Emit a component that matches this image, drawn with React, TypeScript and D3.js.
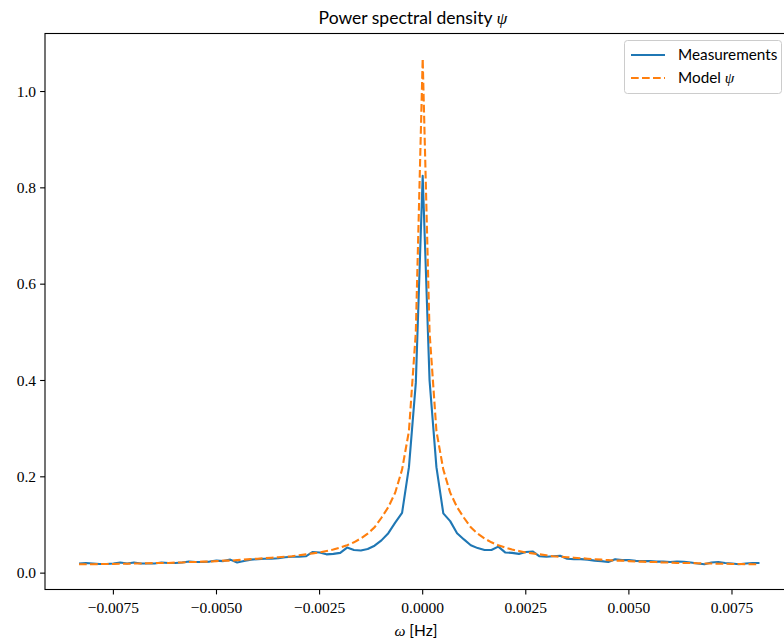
import React from "react";
import * as d3 from "d3";

// Frequency bins (fftshifted): k = -50 .. 49, spacing 1/6000 Hz
const binIndex: number[] = d3.range(-50, 50);
const binSpacingHz = 1 / 6000;

const measurements: number[] = [
  0.020, 0.021, 0.020, 0.019, 0.019, 0.020, 0.022, 0.020, 0.022, 0.020,
  0.020, 0.020, 0.022, 0.021, 0.021, 0.022, 0.024, 0.023, 0.023, 0.024,
  0.026, 0.025, 0.028, 0.022, 0.025, 0.028, 0.029, 0.030, 0.030, 0.031,
  0.033, 0.034, 0.034, 0.035, 0.044, 0.043, 0.039, 0.040, 0.042, 0.053,
  0.048, 0.047, 0.050, 0.057, 0.068, 0.083, 0.105, 0.125, 0.220, 0.395,
  0.825,
  0.400, 0.220, 0.124, 0.108, 0.083, 0.070, 0.058, 0.052, 0.048, 0.048,
  0.055, 0.043, 0.042, 0.040, 0.044, 0.045, 0.035, 0.034, 0.035, 0.036,
  0.030, 0.029, 0.029, 0.028, 0.026, 0.025, 0.023, 0.029, 0.027, 0.027,
  0.0255, 0.025, 0.025, 0.024, 0.024, 0.023, 0.024, 0.0235, 0.022, 0.020,
  0.0185, 0.022, 0.023, 0.021, 0.020, 0.0186, 0.020, 0.021, 0.021,
];

const model: number[] = [
  0.0185, 0.0185, 0.0186, 0.0188, 0.019, 0.019, 0.0195, 0.0195, 0.020, 0.020,
  0.0205, 0.021, 0.021, 0.021, 0.022, 0.022, 0.023, 0.023, 0.024, 0.024,
  0.025, 0.026, 0.026, 0.027, 0.028, 0.029, 0.030, 0.031, 0.032, 0.033,
  0.034, 0.035, 0.037, 0.039, 0.041, 0.043, 0.046, 0.049, 0.053, 0.058,
  0.064, 0.072, 0.082, 0.095, 0.115, 0.137, 0.167, 0.215, 0.295, 0.500,
  1.068,
  0.500, 0.295, 0.215, 0.167, 0.137, 0.115, 0.095, 0.082, 0.072, 0.064,
  0.058, 0.053, 0.049, 0.046, 0.043, 0.041, 0.039, 0.037, 0.035, 0.034,
  0.033, 0.032, 0.031, 0.030, 0.029, 0.028, 0.027, 0.026, 0.026, 0.025,
  0.024, 0.024, 0.023, 0.023, 0.022, 0.022, 0.021, 0.021, 0.021, 0.0205,
  0.020, 0.020, 0.0195, 0.0195, 0.019, 0.019, 0.0188, 0.0186, 0.0185,
];

const xTicks: number[] = [-0.0075, -0.005, -0.0025, 0, 0.0025, 0.005, 0.0075];
const xTickLabels: string[] = ["\u22120.0075", "\u22120.0050", "\u22120.0025", "0.0000", "0.0025", "0.0050", "0.0075"];
const yTicks: number[] = [0, 0.2, 0.4, 0.6, 0.8, 1.0];
const yTickLabels: string[] = ["0.0", "0.2", "0.4", "0.6", "0.8", "1.0"];
const seriesNames: string[] = ["Measurements", "Model"];

const W = 784;
const H = 642;
const left = 45;
const right = 793.5;
const top = 33.5;
const bottom = 589.5;

const serif = "Liberation Serif, DejaVu Serif, serif";
const sans = "Lato, Open Sans, DejaVu Sans, sans-serif";

export default function App() {
  const freqs = binIndex.map((k) => k * binSpacingHz);
  const xMin = d3.min(freqs)!;
  const xMax = d3.max(freqs)!;
  const xPad = (xMax - xMin) * 0.05;
  const allY = measurements.concat(model);
  const yMin = d3.min(allY)!;
  const yMax = d3.max(allY)!;
  const yPad = (yMax - yMin) * 0.05;

  const x = d3.scaleLinear().domain([xMin - xPad, xMax + xPad]).range([left, right]);
  const y = d3.scaleLinear().domain([yMin - yPad, yMax + yPad]).range([bottom, top]);

  const line = d3
    .line<number>()
    .x((_, i) => x(freqs[i]))
    .y((d) => y(d));

  const blue = "#1f77b4";
  const orange = "#ff7f0e";

  return (
    <svg
      width={W}
      height={H}
      style={{ position: "absolute", left: 0, top: 0, background: "#fff" }}
    >
      <defs>
        <clipPath id="plotclip">
          <rect x={left} y={top} width={right - left} height={bottom - top} />
        </clipPath>
      </defs>
      <rect x={0} y={0} width={W} height={H} fill="#fff" />
      <g clipPath="url(#plotclip)">
        <path d={line(measurements) || ""} fill="none" stroke={blue} strokeWidth={2.1} strokeLinejoin="round" />
        <path d={line(model) || ""} fill="none" stroke={orange} strokeWidth={2.1} strokeDasharray="7.7 3.3" />
      </g>
      {/* spines */}
      <rect x={left} y={top} width={right - left} height={bottom - top} fill="none" stroke="#000" strokeWidth={1.1} />
      {/* x ticks */}
      {xTicks.map((t, i) => (
        <g key={"xt" + i} transform={`translate(${x(t)},${bottom})`}>
          <line y1={0} y2={4.9} stroke="#000" strokeWidth={1.1} />
          <text y={23} textAnchor="middle" fontFamily={serif} fontSize={15.5} fill="#000">
            {xTickLabels[i]}
          </text>
        </g>
      ))}
      {/* y ticks */}
      {yTicks.map((t, i) => (
        <g key={"yt" + i} transform={`translate(${left},${y(t)})`}>
          <line x1={0} x2={-4.9} stroke="#000" strokeWidth={1.1} />
          <text x={-9} dy="0.34em" textAnchor="end" fontFamily={serif} fontSize={15.5} fill="#000">
            {yTickLabels[i]}
          </text>
        </g>
      ))}
      {/* title */}
      <text x={413} y={24} textAnchor="middle" fontFamily={sans} fontSize={17.5} fill="#000">
        Power spectral density{" "}
        <tspan fontFamily={serif} fontStyle="italic">ψ</tspan>
      </text>
      {/* x label */}
      <text x={416} y={636} textAnchor="middle" fontSize={15.5} fill="#000">
        <tspan fontFamily={serif} fontStyle="italic">ω</tspan>
        <tspan fontFamily={sans}> [Hz]</tspan>
      </text>
      {/* legend */}
      <g>
        <rect x={624.5} y={40.5} width={157} height={53} rx={3} fill="#fff" fillOpacity={0.8} stroke="#ccc" strokeWidth={1} />
        <line x1={631} x2={665} y1={55} y2={55} stroke={blue} strokeWidth={2.1} />
        <text x={678} y={60} fontFamily={sans} fontSize={15.3} fill="#000">{seriesNames[0]}</text>
        <line x1={631} x2={665} y1={78} y2={78} stroke={orange} strokeWidth={2.1} strokeDasharray="7.7 3.3" />
        <text x={678} y={83} fontFamily={sans} fontSize={15.3} fill="#000">
          {seriesNames[1]}{" "}
          <tspan fontFamily={serif} fontStyle="italic">ψ</tspan>
        </text>
      </g>
    </svg>
  );
}
